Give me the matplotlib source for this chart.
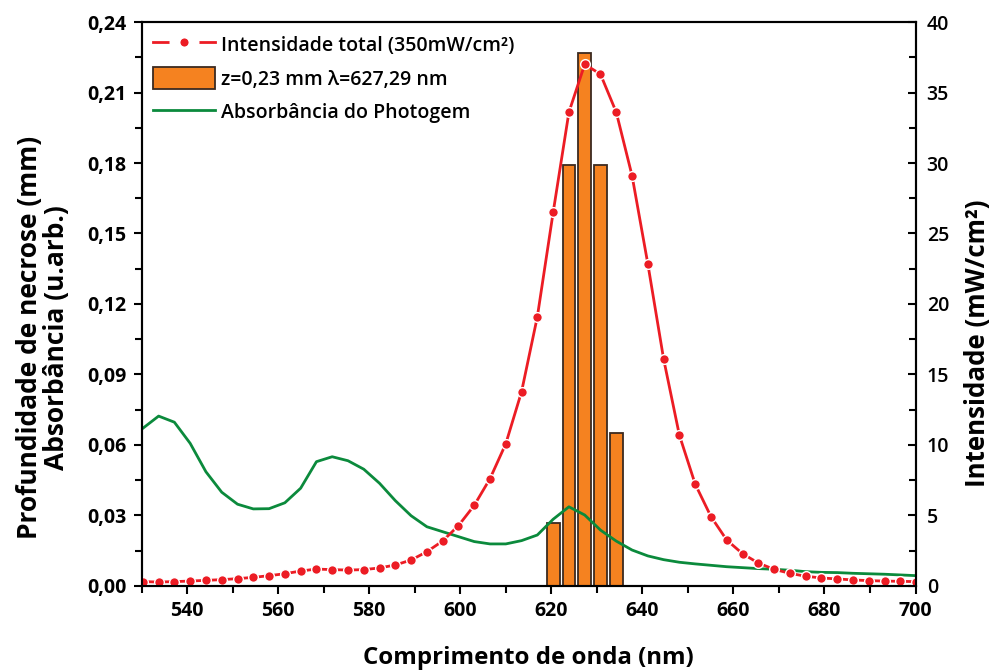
import matplotlib
matplotlib.use('Agg')
import matplotlib.pyplot as plt
from matplotlib.ticker import MultipleLocator, FuncFormatter

# comprimentos de onda medidos (nm)
comprimento = [530.29, 533.76, 537.22, 540.69, 544.15, 547.62, 551.09, 554.55,
               558.02, 561.48, 564.95, 568.42, 571.88, 575.35, 578.81, 582.28,
               585.75, 589.21, 592.68, 596.14, 599.61, 603.08, 606.54, 610.01,
               613.47, 616.94, 620.41, 623.87, 627.34, 630.80, 634.27, 637.74,
               641.20, 644.67, 648.13, 651.60, 655.07, 658.53, 662.00, 665.46,
               668.93, 672.40, 675.86, 679.33, 682.79, 686.26, 689.73, 693.19,
               696.66, 700.12]

# intensidade total (mW/cm2)
intensidade = [0.31, 0.28, 0.31, 0.35, 0.40, 0.45, 0.52, 0.61, 0.73, 0.87,
               1.06, 1.20, 1.16, 1.13, 1.16, 1.28, 1.49, 1.84, 2.43, 3.19,
               4.28, 5.72, 7.61, 10.09, 13.78, 19.1, 26.5, 33.6, 37.0, 36.3,
               33.6, 29.1, 22.85, 16.1, 10.7, 7.23, 4.92, 3.26, 2.29, 1.63,
               1.18, 0.90, 0.69, 0.57, 0.50, 0.43, 0.38, 0.35, 0.33, 0.31]

# absorbancia do Photogem (u.arb.)
absorbancia = [0.0671, 0.0723, 0.0697, 0.0607, 0.0486, 0.0399, 0.0348, 0.0328,
               0.0329, 0.0354, 0.0416, 0.0529, 0.0550, 0.0533, 0.0497, 0.0437,
               0.0363, 0.0299, 0.0252, 0.0231, 0.0210, 0.0189, 0.0179, 0.0179,
               0.0193, 0.0217, 0.0284, 0.0337, 0.0302, 0.0238, 0.0191, 0.0153,
               0.0128, 0.0112, 0.0101, 0.0094, 0.0088, 0.0082, 0.0078, 0.0074,
               0.0071, 0.0067, 0.0061, 0.0058, 0.0057, 0.0054, 0.0052, 0.0050,
               0.0047, 0.0044]

# profundidade de necrose (mm)
barras_x = [620.41, 623.87, 627.34, 630.80, 634.27]
profundidade = [0.027, 0.179, 0.227, 0.179, 0.065]

plt.rcParams['font.family'] = ['Open Sans', 'DejaVu Sans']
plt.rcParams['font.weight'] = 'semibold'
plt.rcParams['axes.linewidth'] = 1.5

fig = plt.figure(figsize=(9.93, 6.71), dpi=100)
ax = fig.add_axes([0.1425, 0.1267, 0.7795, 0.8405])
ax2 = ax.twinx()

barras = ax.bar(barras_x, profundidade, width=2.8, color='#f58220',
                edgecolor='#3b2a20', linewidth=1.3,
                label='z=0,23 mm λ=627,29 nm')
linha_abs, = ax.plot(comprimento, absorbancia, color='#0b8a3c', lw=2.0,
                     label='Absorbância do Photogem')
linha_int, = ax2.plot(comprimento, intensidade, color='#ec1c24', lw=2.0,
                      marker='o', ms=7, mfc='#ec1c24', mec='white', mew=1.0,
                      label='Intensidade total (350mW/cm²)')

ax.set_xlim(530, 700)
ax.set_ylim(0, 0.24)
ax2.set_ylim(0, 40)

ax.xaxis.set_major_locator(MultipleLocator(20))
ax.xaxis.set_minor_locator(MultipleLocator(10))
ax.yaxis.set_major_locator(MultipleLocator(0.03))
ax.yaxis.set_minor_locator(MultipleLocator(0.015))
ax2.yaxis.set_major_locator(MultipleLocator(5))
ax2.yaxis.set_minor_locator(MultipleLocator(2.5))

ax.yaxis.set_major_formatter(FuncFormatter(lambda v, p: f'{v:.2f}'.replace('.', ',')))

ax.tick_params(axis='both', which='major', direction='out', length=6, width=1.5,
               labelsize=14, pad=5)
ax.tick_params(axis='both', which='minor', direction='out', length=5, width=1.5)
ax2.tick_params(axis='y', which='major', direction='in', length=6, width=1.5,
                labelsize=14, pad=8)
ax2.tick_params(axis='y', which='minor', direction='in', length=5, width=1.5)
for rotulo in ax.get_xticklabels() + ax.get_yticklabels():
    rotulo.set_fontweight('bold')

ax.set_xlabel('Comprimento de onda (nm)', fontsize=17.3, fontweight='bold', labelpad=18)
ax.set_ylabel('Profundidade de necrose (mm)\nAbsorbância (u.arb.)', fontsize=19,
              fontweight='bold', linespacing=1.0)
ax.yaxis.set_label_coords(-0.092, 0.44)
ax2.set_ylabel('Intensidade (mW/cm²)', fontsize=18.6, fontweight='bold')
ax2.yaxis.set_label_coords(1.063, 0.43)

leg = ax2.legend([linha_int, barras, linha_abs],
                 [linha_int.get_label(), barras.get_label(), linha_abs.get_label()],
                 loc='upper left', frameon=False, fontsize=14, borderaxespad=0.2,
                 handlelength=3.2, handleheight=1.3, handletextpad=0.3,
                 labelspacing=0.6)
# ponto do simbolo com aro branco largo, como no original
leg.legend_handles[0].set_markersize(13.8)
leg.legend_handles[0].set_markeredgewidth(7.8)

fig.savefig('out.png', dpi=100)
